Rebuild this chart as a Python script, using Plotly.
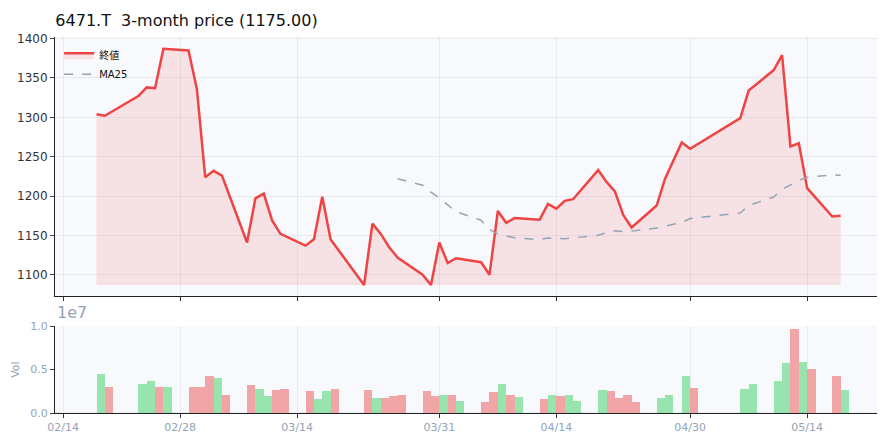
import pandas as pd
import plotly.graph_objects as go
from plotly.subplots import make_subplots

dates = ["2026-02-18","2026-02-19","2026-02-23","2026-02-24","2026-02-25","2026-02-26",
 "2026-03-01","2026-03-02","2026-03-03","2026-03-04","2026-03-05",
 "2026-03-08","2026-03-09","2026-03-10","2026-03-11","2026-03-12",
 "2026-03-15","2026-03-16","2026-03-17","2026-03-18",
 "2026-03-22","2026-03-23","2026-03-24","2026-03-25","2026-03-26",
 "2026-03-29","2026-03-30","2026-03-31","2026-04-01","2026-04-02",
 "2026-04-05","2026-04-06","2026-04-07","2026-04-08","2026-04-09",
 "2026-04-12","2026-04-13","2026-04-14","2026-04-15","2026-04-16",
 "2026-04-19","2026-04-20","2026-04-21","2026-04-22","2026-04-23",
 "2026-04-26","2026-04-27","2026-04-29","2026-04-30",
 "2026-05-06","2026-05-07",
 "2026-05-10","2026-05-11","2026-05-12","2026-05-13","2026-05-14",
 "2026-05-17","2026-05-18"]
close = [1304,1302,1327,1338,1337,1387,
 1385,1336,1224,1232,1226,
 1141,1197,1203,1169,1152,
 1137,1145,1199,1145,
 1087,1165,1152,1135,1122,
 1100,1087,1141,1115,1121,
 1116,1100,1181,1166,1172,
 1170,1190,1184,1194,1196,
 1233,1218,1206,1176,1160,
 1188,1222,1268,1260,
 1299,1334,
 1360,1379,1263,1267,1210,
 1174,1175]
volume = [0.45,0.30,0.33,0.37,0.30,0.30,
 0.30,0.30,0.43,0.40,0.20,
 0.32,0.28,0.19,0.26,0.27,
 0.25,0.16,0.25,0.28,
 0.26,0.17,0.17,0.19,0.20,
 0.25,0.19,0.21,0.21,0.14,
 0.12,0.24,0.33,0.20,0.18,
 0.16,0.21,0.19,0.21,0.14,
 0.26,0.25,0.17,0.21,0.13,
 0.17,0.21,0.42,0.29,
 0.28,0.33,
 0.37,0.57,0.96,0.58,0.51,
 0.43,0.26]
volume = [v*1e7 for v in volume]
tick_vals = ["2026-02-14","2026-02-28","2026-03-14","2026-03-31","2026-04-14","2026-04-30","2026-05-14"]
tick_text = ["02/14","02/28","03/14","03/31","04/14","04/30","05/14"]

df = pd.DataFrame({"d": pd.to_datetime(dates), "c": close, "v": volume})
ma = df["c"].rolling(25).mean()
base = min(close)
colors = ["rgba(120,220,150,0.75)" if i == 0 or close[i] >= close[i-1] else "rgba(240,130,130,0.7)" for i in range(len(close))]

fig = make_subplots(rows=2, cols=1, shared_xaxes=False)
fig.add_trace(go.Scatter(x=df["d"], y=[base]*len(df), mode="lines", line=dict(width=0), showlegend=False, hoverinfo="skip"), 1, 1)
fig.add_trace(go.Scatter(x=df["d"], y=df["c"], mode="lines", name="終値", line=dict(color="#ef4444", width=2.5),
                         fill="tonexty", fillcolor="rgba(239,68,68,0.12)"), 1, 1)
fig.add_trace(go.Scatter(x=df["d"], y=ma, mode="lines", name="MA25", line=dict(color="#94a3b8", width=1.5, dash="dash")), 1, 1)
fig.add_trace(go.Bar(x=df["d"] + pd.Timedelta(hours=12), y=df["v"], marker=dict(color=colors, line=dict(width=0)),
                     width=86400000, showlegend=False), 2, 1)

xr = ["2026-02-13 00:45", "2026-05-23 01:40"]
grid = "rgba(200,205,215,0.35)"
fig.update_xaxes(range=xr, tickvals=tick_vals, ticktext=tick_text, showgrid=True, gridcolor=grid,
                 ticks="outside", ticklen=4, tickcolor="#333", showline=True, linecolor="#222",
                 tickfont=dict(size=11, color="#94a3b8"), automargin=False)
fig.update_xaxes(showticklabels=False, row=1, col=1)
fig.update_yaxes(automargin=False)
fig.update_yaxes(range=[1073, 1402], tickvals=[1100,1150,1200,1250,1300,1350,1400], showgrid=True, gridcolor=grid,
                 showline=True, linecolor="#222", ticks="outside", ticklen=4, tickfont=dict(size=12, color="#333"),
                 domain=[0.311, 1.0], row=1, col=1)
fig.update_yaxes(range=[0, 1e7], tickvals=[0, 5e6, 1e7], ticktext=["0.0","0.5","1.0"], showgrid=False,
                 showline=True, linecolor="#222", ticks="outside", ticklen=4, tickfont=dict(size=11, color="#94a3b8"),
                 title=dict(text="Vol", font=dict(size=11, color="#94a3b8"), standoff=8),
                 domain=[0, 0.231], row=2, col=1)
fig.update_layout(
    width=877, height=437, template="plotly_white",
    margin=dict(l=47, r=2, t=29, b=32),
    plot_bgcolor="#f8f9fc", paper_bgcolor="white",
    font=dict(family="DejaVu Sans, Noto Sans CJK JP"),
    title=dict(text="6471.T  3-month price (1175.00)", x=0.054, xanchor="left", y=0.985, yanchor="top",
               font=dict(size=16, color="#111")),
    legend=dict(x=0.005, y=0.99, xanchor="left", yanchor="top", traceorder="normal",
                bgcolor="rgba(255,255,255,0)", font=dict(size=10, color="#111")),
    bargap=0,
)
fig.add_annotation(text="1e7", xref="paper", yref="paper", x=0.0, y=0.236, xanchor="left", yanchor="bottom",
                   showarrow=False, font=dict(size=16, color="#94a3b8"))
fig.write_html("out.html")
